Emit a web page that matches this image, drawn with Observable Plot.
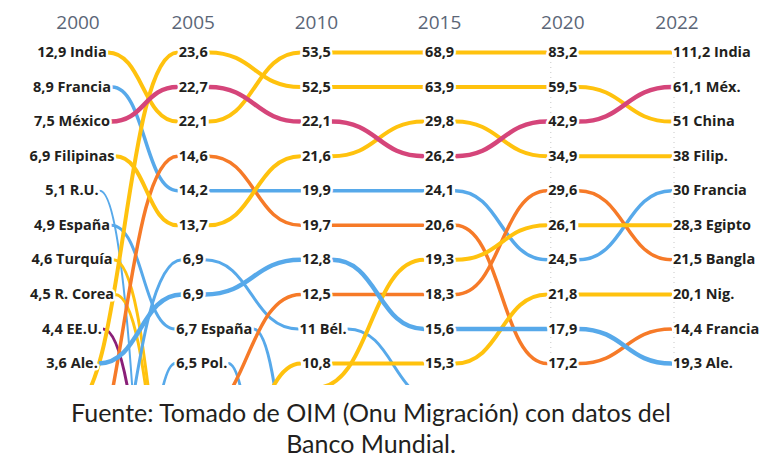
<!DOCTYPE html>
<html>
<head>
<meta charset="utf-8">
<script src="https://cdn.jsdelivr.net/npm/d3@7"></script>
<script src="https://cdn.jsdelivr.net/npm/@observablehq/plot@0.6"></script>
<style>
  html, body { margin: 0; background: #fff; overflow: hidden; }
  #chart { width: 765px; height: 385px; overflow: hidden; }
  #caption { font-family: Lato, sans-serif; font-size: 25px; line-height: 31px; color: #231f20;
             text-align: center; width: 742px; margin-top: 12px; }
</style>
</head>
<body>
<div id="chart"></div>
<div id="caption">Fuente: Tomado de OIM (Onu Migración) con datos del<br>Banco Mundial.</div>
<script>
// ---------------- DATA ----------------
const years = ["2000", "2005", "2010", "2015", "2020", "2022"];

// one track per line drawn in the chart
const series = ["India", "China", "México", "Filipinas", "Francia", "Nigeria", "Alemania",
  "Egipto(2010)", "Bangladesh(2010)", "Pakistán(2015)", "R.U.", "España", "Turquía",
  "R. Corea", "EE.UU.", "Bélgica", "Polonia"];

const region = ["asia", "asia", "latam", "asia", "europa", "africa", "europa",
  "africa", "asia", "asia", "europa", "europa", "asia",
  "asia", "norteam", "europa", "europa"];

// remittances (billions USD) shown as labels; null = no label in that year
const values = [
  [12.9, 22.1, 53.5, 68.9, 83.2, 111.2],
  [null, 23.6, 52.5, 63.9, 59.5, 51],
  [7.5, 22.7, 22.1, 26.2, 42.9, 61.1],
  [6.9, 13.7, 21.6, 29.8, 34.9, 38],
  [8.9, 14.2, 19.9, 24.1, 24.5, 30],
  [null, 14.6, 19.7, 20.6, 17.2, 14.4],
  [3.6, 6.9, 12.8, 15.6, 17.9, 19.3],
  [null, null, 12.5, 18.3, 29.6, 21.5],
  [null, null, 10.8, 15.3, 21.8, 20.1],
  [null, null, null, 19.3, 26.1, 28.3],
  [5.1, null, null, null, null, null],
  [4.9, 6.7, null, null, null, null],
  [4.6, null, null, null, null, null],
  [4.5, null, null, null, null, null],
  [4.4, null, null, null, null, null],
  [null, 6.9, 11, null, null, null],
  [null, 6.5, null, null, null, null]
];

// rank in the top 10 (1 = first); values above 10 = estimated position below the visible list
const ranks = [
  [1, 3, 1, 1, 1, 1],
  [11.3, 1, 2, 2, 2, 3],
  [3, 2, 3, 4, 3, 2],
  [4, 6, 4, 3, 4, 4],
  [2, 5, 5, 5, 7, 5],
  [13.7, 4, 6, 6, 10, 9],
  [10, 8, 7, 9, 9, 10],
  [null, 11.6, 8, 8, 5, 7],
  [null, 15.9, 10, 10, 8, 8],
  [null, null, 10.7, 7, 6, 6],
  [5, 30, null, null, null, null],
  [6, 9, 17, null, null, null],
  [7, 16.8, null, null, null, null],
  [8, 17, null, null, null, null],
  [9, 22.2, null, null, null, null],
  [17.6, 7, 9, 11.1, null, null],
  [44, 10, 34, null, null, null]
];

// country names printed next to the value (as in the original)
const names = [
  ["India", null, null, null, null, "India"],
  [null, null, null, null, null, "China"],
  ["México", null, null, null, null, "Méx."],
  ["Filipinas", null, null, null, null, "Filip."],
  ["Francia", null, null, null, null, "Francia"],
  [null, null, null, null, null, "Francia"],
  ["Ale.", null, null, null, null, "Ale."],
  [null, null, null, null, null, "Bangla"],
  [null, null, null, null, null, "Nig."],
  [null, null, null, null, null, "Egipto"],
  ["R.U.", null, null, null, null, null],
  ["España", "España", null, null, null, null],
  ["Turquía", null, null, null, null, null],
  ["R. Corea", null, null, null, null, null],
  ["EE.U.", null, null, null, null, null],
  [null, null, "Bél.", null, null, null],
  [null, "Pol.", null, null, null, null]
];

// ---------------- STYLE ----------------
const colors = {asia: "#FFC20E", europa: "#57A9EA", latam: "#D5457A", africa: "#F67A28", norteam: "#8A1F78"};
const widths = [4, 4, 4.5, 4, 3.5, 3.5, 4.5, 3.5, 4, 4, 2, 3, 3, 3, 3, 3, 3];

// ---------------- LAYOUT ----------------
const xLeft = 69.5, xRight = 685.5, step = (xRight - xLeft) / (years.length - 1);
const px = p => p / step;
const FONT = "'Open Sans', sans-serif";
const FSIZE = 14.5;
const ctx = document.createElement("canvas").getContext("2d");
ctx.font = `700 ${FSIZE}px 'Open Sans'`;
const tw = s => ctx.measureText(s).width;
const fmt = v => String(v).replace(".", ",");
const last = years.length - 1;

const nodes = [];
series.forEach((sName, s) => {
  years.forEach((yr, i) => {
    const r = ranks[s][i];
    if (r == null) return;
    const v = values[s][i];
    const node = {s, i, rank: r, inX: i, outX: i};
    if (v != null) {
      const nm = names[s][i];
      const text = nm ? `${fmt(v)} ${nm}` : fmt(v);
      const w = tw(text);
      node.text = text;
      if (i === 0) {
        node.anchor = "middle"; node.tx = i + px(2);
        node.outX = i + px(2 + w / 2 + 1); node.inX = node.outX;
      } else if (i === last) {
        node.anchor = "start"; node.tx = i - px(13); node.inX = i - px(14);
      } else if (nm) {
        node.anchor = "start"; node.tx = i - px(17);
        node.inX = i - px(18); node.outX = i + px(-17 + w + 1);
      } else {
        node.anchor = "middle"; node.tx = i;
        node.inX = i - px(w / 2 + 1); node.outX = i + px(w / 2 + 1);
      }
    }
    nodes.push(node);
  });
});

const byKey = new Map(nodes.map(n => [n.s + "-" + n.i, n]));
const segs = [];
series.forEach((sName, s) => {
  for (let i = 0; i < last; i++) {
    const a = byKey.get(s + "-" + i), b = byKey.get(s + "-" + (i + 1));
    if (!a || !b) continue;
    const z = s + "-" + i;
    segs.push({s, z, x: a.outX, y: a.rank});
    segs.push({s, z, x: b.inX, y: b.rank});
  }
});

const order = d3.range(series.length).sort((a, b) => widths[a] - widths[b]);

const labelStyle = {fontFamily: FONT, fontWeight: 700, fontSize: FSIZE, fill: "#231f20",
  stroke: "white", strokeWidth: 5, lineAnchor: "middle"};

const guides = [4, 5].map(i => ({x: i - px(12)}));

const chart = Plot.plot({
  width: 765, height: 386, margin: 0,
  style: {background: "white"},
  x: {type: "linear", domain: [0, last], range: [xLeft, xRight], axis: null},
  y: {type: "linear", domain: [1, 10], range: [52, 363], axis: null},
  marks: [
    Plot.ruleX(guides, {x: "x", y1: 1, y2: 10, stroke: "#c8c8c8", strokeWidth: 1, strokeDasharray: "1,4"}),
    ...order.map(s => Plot.line(segs.filter(d => d.s === s), {
      x: "x", y: "y", z: "z", curve: "bump-x", clip: true,
      stroke: colors[region[s]], strokeWidth: widths[s], strokeLinecap: "butt"
    })),
    Plot.text(nodes.filter(n => n.text && n.anchor === "middle"),
      {x: "tx", y: "rank", text: "text", textAnchor: "middle", ...labelStyle}),
    Plot.text(nodes.filter(n => n.text && n.anchor === "start"),
      {x: "tx", y: "rank", text: "text", textAnchor: "start", ...labelStyle}),
    Plot.text(years, {x: (d, i) => i + (i === 0 ? px(8) : i === last ? px(-9) : 0),
      frameAnchor: "top", dy: 22, text: d => d, fontFamily: FONT, fontSize: 19,
      fill: "#5b6677", lineAnchor: "middle"})
  ]
});
document.getElementById("chart").appendChild(chart);
</script>
</body>
</html>
